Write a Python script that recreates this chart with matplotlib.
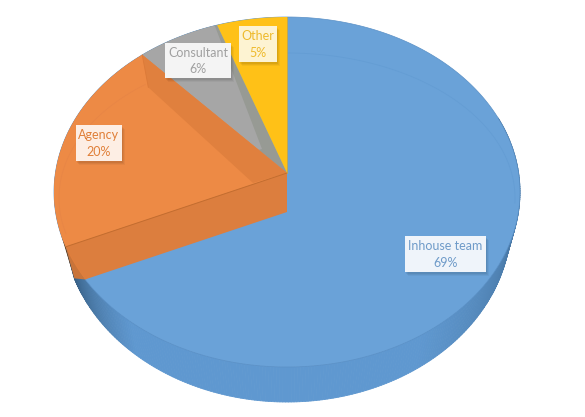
import numpy as np
import matplotlib
matplotlib.use("Agg")
import matplotlib.pyplot as plt
from matplotlib.patches import Polygon, Rectangle
from matplotlib.collections import PolyCollection

categories = ["Other", "Consultant", "Agency", "Inhouse team"]
shares = [5, 6, 20, 69]
tick_labels = [f"{c}\n{v}%" for c, v in zip(categories, shares)]

TOP = (287, 192, 233, 175)
BOT = (287, 222, 224, 180)
INNER = (287, 198, 228, 145)
APEX = np.array([287.0, 173.0])
APEX_LOW = np.array([287.0, 212.0])
ANGLE_SCALE = 0.97


def ell(e, t):
    t = np.radians(t)
    return np.column_stack([e[0] - e[2] * np.sin(t), e[1] - e[3] * np.cos(t)])


def arc(e, a, b, n=120):
    return ell(e, np.linspace(a, b, n))


cum = np.cumsum(shares) / np.sum(shares) * 360 * ANGLE_SCALE
t_other, t_cons, t_agency = cum[0], cum[1], cum[2]

fig = plt.figure(figsize=(5.85, 4.17), dpi=100, facecolor="white")
ax = fig.add_axes([0, 0, 1, 1])
ax.set_xlim(0, 585)
ax.set_ylim(417, 0)
ax.axis("off")

# side wall of the blue slice
ts = np.linspace(t_agency, 360 - 65, 260)
quads, cols = [], []
dark = np.array(matplotlib.colors.to_rgb("#33597c"))
mid = np.array(matplotlib.colors.to_rgb("#5f98d0"))
for a, b in zip(ts[:-1], ts[1:]):
    p = np.vstack([ell(TOP, a), ell(TOP, b), ell(BOT, b), ell(BOT, a)])
    quads.append(p)
    u = (a + b) / 2
    d = min(abs(u - ts[0]) / 30, abs(ts[-1] - u) / 80)
    k = np.clip(d, 0, 1) ** 0.8
    cols.append(dark * (1 - k) + mid * k)
ax.add_collection(PolyCollection(quads, facecolors=cols, edgecolors=cols, linewidths=0.6, zorder=1))

# blue top face
ax.add_patch(Polygon(arc(TOP, 0, 360, 360), closed=True, fc="#6aa2d8", ec="#5a90c6", lw=0.5, zorder=2))
ax.plot(*arc(INNER, 360 - 92, 360, 120).T, color="#649dd4", lw=0.6, zorder=2.1)

# orange wall toward the viewer
cand = np.linspace(t_agency, t_agency + 25, 400)
rim = ell(TOP, cand)
d_dir = ell(TOP, t_agency)[0] - APEX
cross = (rim[:, 0] - APEX_LOW[0]) * d_dir[1] - (rim[:, 1] - APEX_LOW[1]) * d_dir[0]
foot_t = cand[np.argmin(np.abs(cross))]

# orange sliver on the outside
sl = np.vstack([ell(TOP, t_agency), ell(BOT, t_agency), ell(TOP, foot_t)])
ax.add_patch(Polygon(sl, closed=True, fc="#c9743a", ec="none", zorder=2.5))
sl2 = np.vstack([ell(TOP, t_agency - 4), ell(TOP, t_agency), ell(BOT, t_agency)])
ax.add_patch(Polygon(sl2, closed=True, fc="#5a3513", ec="none", zorder=2.4))

# grey slice
grey_pts = np.vstack([APEX, arc(TOP, t_other, t_cons)])
ax.add_patch(Polygon(grey_pts, closed=True, fc="#979a94", ec="none", zorder=3))
g_a = ell(TOP, t_cons)[0]
light = np.vstack([arc(TOP, t_other + 0.6, t_cons), [[258, 150], [262, 149]]])
ax.add_patch(Polygon(light, closed=True, fc="#a6a6a6", ec="none", zorder=3.1))

# orange top and wall
ax.add_patch(Polygon(np.vstack([APEX, arc(TOP, t_cons, foot_t)]), closed=True, fc="#e17f3c", ec="none", zorder=3.2))
ax.add_patch(Polygon(np.vstack([APEX, arc(TOP, t_cons, t_agency)]), closed=True, fc="#ed8a45", ec="none", zorder=3.3))
inner_apex = np.array([253.0, 183.0])
inner_top = ell(INNER, t_cons)[0] + [3, 3]
band = np.vstack([g_a, APEX, inner_apex, inner_top])
ax.add_patch(Polygon(band, closed=True, fc="#e0803e", ec="none", zorder=3.4))
front = np.vstack([APEX, APEX_LOW, ell(TOP, foot_t), ell(TOP, t_agency)])
ax.add_patch(Polygon(front, closed=True, fc="#dc7e3e", ec="none", zorder=3.5))
ax.plot(*np.vstack([APEX, ell(TOP, t_agency)]).T, color="#c26d30", lw=0.7, zorder=3.6)
ax.plot(*arc(INNER, t_cons, t_agency - 4, 60).T, color="#e88646", lw=0.6, zorder=3.45)
ax.plot(*np.vstack([g_a, inner_top]).T, color="#dc7a38", lw=0.6, zorder=3.45)

# yellow slice
ax.add_patch(Polygon(np.vstack([APEX, arc(TOP, 0, t_other)]), closed=True, fc="#ffc117", ec="none", zorder=4))
ax.plot([APEX[0], APEX[0]], [17, APEX[1]], color="#e0ac20", lw=0.5, zorder=4.1)

# labels
boxes = [(239, 26, 38, 36), (165, 43, 66, 35), (76, 125, 46, 36), (405, 236, 81, 36)]
txt_cols = ["#eeba2c", "#a0a0a0", "#e07f38", "#6f9bc9"]
box_cols = ["#fdf3d2", "#f4f4f4", "#fdeee4", "#eff4fa"]
for label, (x, y, w, h), tc, bc in zip(tick_labels, boxes, txt_cols, box_cols):
    for off, al in [(4, 0.04), (3, 0.05), (2, 0.06)]:
        ax.add_patch(Rectangle((x + off - 1, y + off), w, h, fc="black", ec="none", alpha=al, zorder=5))
    ax.add_patch(Rectangle((x, y), w, h, fc=bc, ec="none", zorder=6))
    ax.text(x + w / 2, y + h / 2 + 0.5, label, ha="center", va="center", color=tc,
            fontsize=9, family="Lato", linespacing=1.42, zorder=7)

fig.savefig("out.png", dpi=100)
